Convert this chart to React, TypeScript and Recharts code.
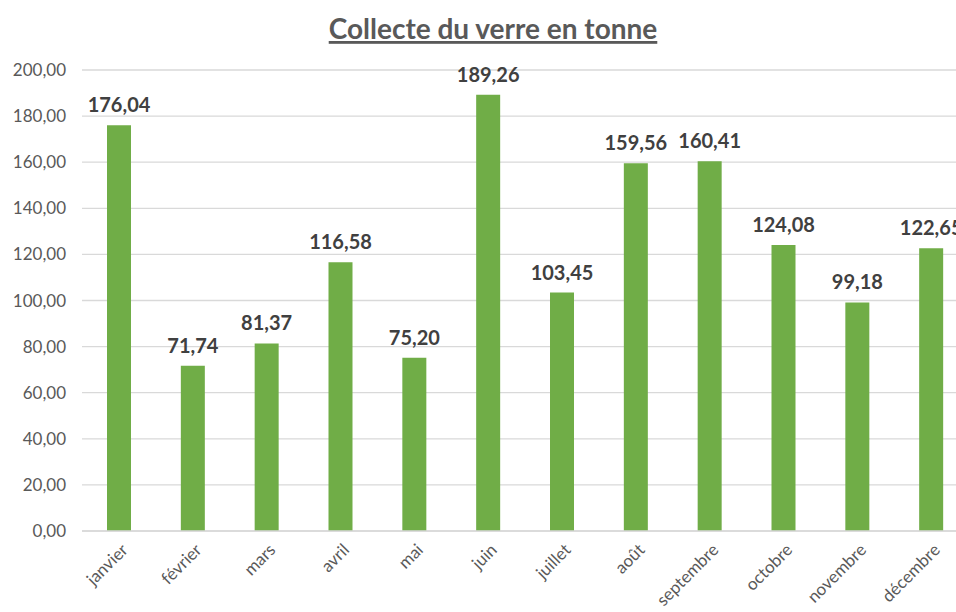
import React from "react";
import { BarChart, Bar, XAxis, YAxis, CartesianGrid, LabelList } from "recharts";

const months = ["janvier", "février", "mars", "avril", "mai", "juin", "juillet", "août", "septembre", "octobre", "novembre", "décembre"];
const tonnes = [176.04, 71.74, 81.37, 116.58, 75.2, 189.26, 103.45, 159.56, 160.41, 124.08, 99.18, 122.65];
const yTicks = [0, 20, 40, 60, 80, 100, 120, 140, 160, 180, 200];
const title = "Collecte du verre en tonne";

const data = months.map((m, i) => ({ month: m, value: tonnes[i] }));

const fmt = (v: number) => v.toFixed(2).replace(".", ",");
const FONT = "Lato, 'Open Sans', sans-serif";

const XTick = (props: any) => {
  const { x, y, payload } = props;
  return (
    <g transform={`translate(${x + 10},${y + 12})`}>
      <text
        x={0}
        y={0}
        textAnchor="end"
        transform="rotate(-45)"
        fill="#595959"
        fontSize={17}
        fontFamily={FONT}
      >
        {payload.value}
      </text>
    </g>
  );
};

export default function App() {
  return (
    <div style={{ position: "fixed", left: 0, top: 0, width: 956, height: 612, overflow: "hidden", background: "#fff" }}>
      <BarChart
        width={980}
        height={612}
        data={data}
        margin={{ top: 70, right: 12, bottom: 0, left: 0 }}
      >
        <text
          x={493}
          y={39}
          textAnchor="middle"
          fontSize={28}
          fontWeight="bold"
          fill="#595959"
          fontFamily={FONT}
          textDecoration="underline"
        >
          {title}
        </text>
        <CartesianGrid vertical={false} stroke="#d9d9d9" strokeWidth={1.3} />
        <XAxis
          dataKey="month"
          height={81}
          interval={0}
          tickLine={false}
          axisLine={{ stroke: "#d9d9d9", strokeWidth: 1.3 }}
          tick={<XTick />}
        />
        <YAxis
          width={82}
          domain={[0, 200]}
          ticks={yTicks}
          tickFormatter={fmt}
          axisLine={false}
          tickLine={false}
          tickMargin={10}
          tick={{ fill: "#595959", fontSize: 17, fontFamily: FONT }}
        />
        <Bar dataKey="value" fill="#70AD47" barSize={24} isAnimationActive={false}>
          <LabelList
            dataKey="value"
            position="top"
            offset={13}
            formatter={(v: any) => fmt(Number(v))}
            fill="#404040"
            fontSize={20}
            fontWeight="bold"
            fontFamily={FONT}
          />
        </Bar>
      </BarChart>
    </div>
  );
}
